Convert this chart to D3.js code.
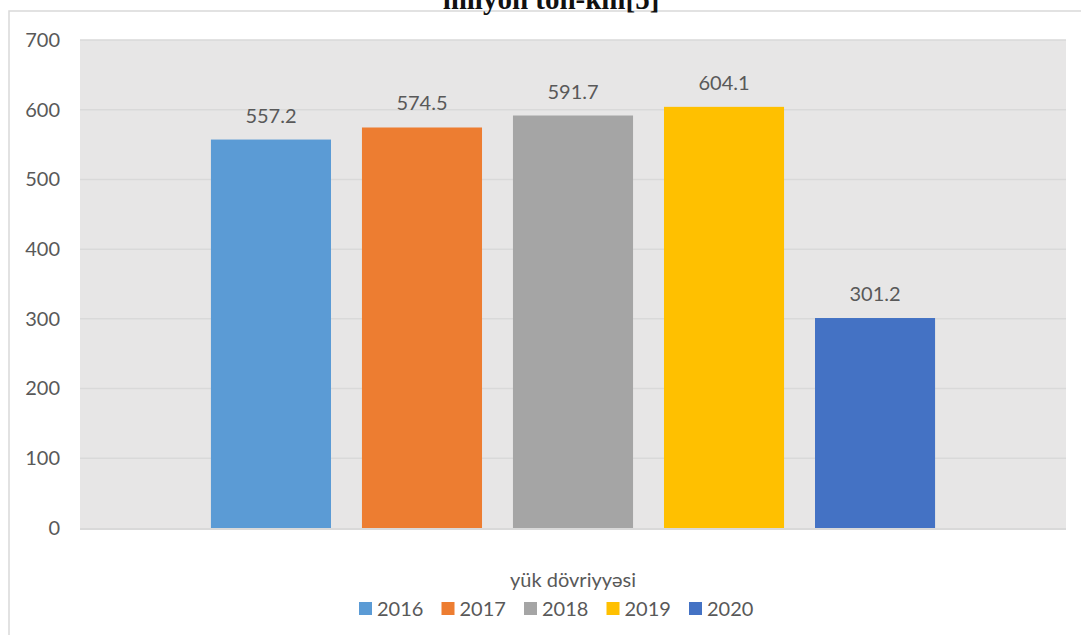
<!DOCTYPE html>
<html><head><meta charset="utf-8">
<script src="https://cdn.jsdelivr.net/npm/d3@7"></script>
<style>body{margin:0;background:#fff;overflow:hidden}svg{display:block}</style>
</head><body>
<script>
const title = "milyon ton-km[5]";
const category = "yük dövriyyəsi";
const years = ["2016","2017","2018","2019","2020"];
const values = [557.2, 574.5, 591.7, 604.1, 301.2];
const colors = ["#5B9BD5","#ED7D31","#A5A5A5","#FFC000","#4472C4"];
const yTicks = [0,100,200,300,400,500,600,700];

const W = 1081, H = 635;
const font = "Lato, 'Open Sans', sans-serif";
const fs = 20;
const svg = d3.select("body").append("svg").attr("width", W).attr("height", H);

// outer chart border
svg.append("rect").attr("x", 9).attr("y", 11).attr("width", 1100).attr("height", 700)
  .attr("fill", "#fff").attr("stroke", "#d9d9d9").attr("stroke-width", 1.5);

// title (clipped at top, as in the source)
svg.append("text").attr("x", 551).attr("y", 9).attr("text-anchor", "middle")
  .attr("font-family", "'Liberation Serif', serif").attr("font-weight", "bold")
  .attr("font-size", 29).attr("fill", "#111").text(title);

const plot = {left: 80, right: 1066, top: 40, bottom: 528};
const y = d3.scaleLinear().domain([0, 700]).range([plot.bottom, plot.top]);
const x = d3.scaleBand().domain(years).range([plot.left, plot.right])
  .paddingInner(0.205).paddingOuter(0.867);

svg.append("rect").attr("x", plot.left).attr("y", plot.top)
  .attr("width", plot.right - plot.left).attr("height", plot.bottom - plot.top)
  .attr("fill", "#e7e6e6");

// gridlines
svg.append("g").selectAll("line").data(yTicks.filter(d => d > 0)).join("line")
  .attr("x1", plot.left).attr("x2", plot.right)
  .attr("y1", d => y(d)).attr("y2", d => y(d))
  .attr("stroke", "#d9d9d9").attr("stroke-width", 1.5);

// y axis labels
const yAxis = d3.axisLeft(y).tickValues(yTicks).tickSize(0).tickPadding(20);
const gy = svg.append("g").attr("transform", `translate(${plot.left},0)`).call(yAxis);
gy.select(".domain").remove();
gy.selectAll("text").attr("font-family", font).attr("font-size", fs).attr("fill", "#595959");

// bars
svg.append("g").selectAll("rect").data(values).join("rect")
  .attr("x", (d, i) => x(years[i])).attr("width", x.bandwidth())
  .attr("y", d => y(d)).attr("height", d => y(0) - y(d))
  .attr("fill", (d, i) => colors[i]);

// bottom axis line
svg.append("line").attr("x1", plot.left).attr("x2", plot.right)
  .attr("y1", plot.bottom + 1).attr("y2", plot.bottom + 1)
  .attr("stroke", "#d9d9d9").attr("stroke-width", 2);

// value labels
svg.append("g").selectAll("text").data(values).join("text")
  .attr("x", (d, i) => x(years[i]) + x.bandwidth() / 2)
  .attr("y", d => y(d) - 17)
  .attr("text-anchor", "middle").attr("font-family", font).attr("font-size", fs)
  .attr("fill", "#595959").text(d => d.toFixed(1));

// category label
svg.append("text").attr("x", (plot.left + plot.right) / 2).attr("y", 587)
  .attr("text-anchor", "middle").attr("font-family", font).attr("font-size", fs)
  .attr("fill", "#595959").text(category);

// legend
const lg = svg.append("g");
const lx = d3.scaleBand().domain(years).range([359, 359 + 5 * 82.5]);
const items = lg.selectAll("g").data(years).join("g")
  .attr("transform", d => `translate(${lx(d)},602)`);
items.append("rect").attr("width", 13).attr("height", 13).attr("fill", (d, i) => colors[i]);
items.append("text").attr("x", 18).attr("y", 14).attr("font-family", font).attr("font-size", fs)
  .attr("fill", "#595959").text(d => d);
</script>
</body></html>
